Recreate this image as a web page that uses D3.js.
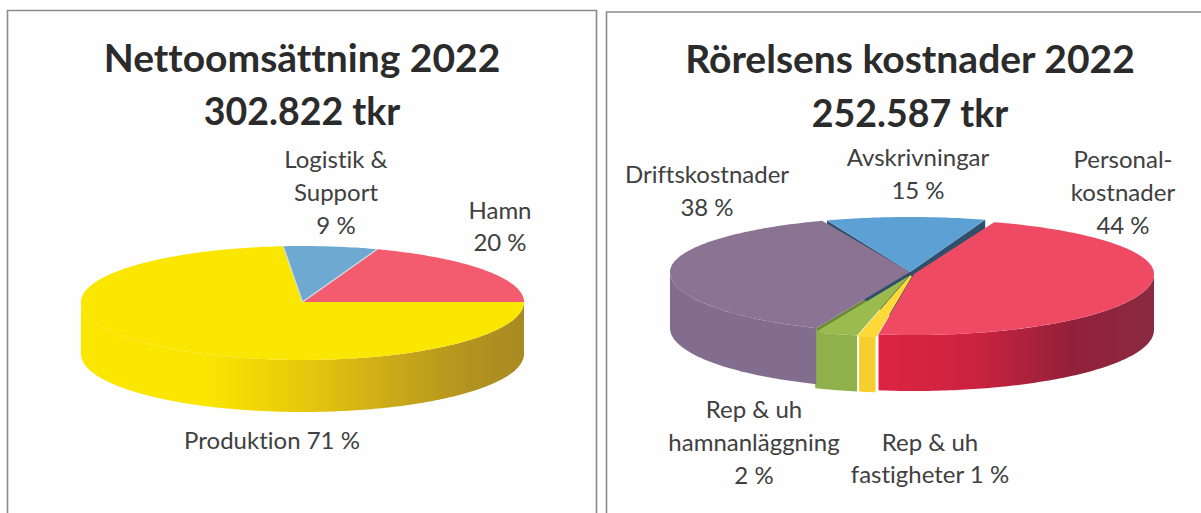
<!DOCTYPE html>
<html><head><meta charset="utf-8">
<script src="https://cdn.jsdelivr.net/npm/d3@7/dist/d3.min.js"></script>
<style>html,body{margin:0;padding:0;background:#fefefe}svg{display:block}text{font-variant-ligatures:none}</style></head>
<body><svg id="c" width="1201" height="513"></svg>
<script>
// Data
const revenueTitle = ["Nettoomsättning 2022", "302.822 tkr"];
const revenueCategories = ["Hamn", "Logistik & Support", "Produktion"];
const revenueValues = [20, 9, 71];
const costTitle = ["Rörelsens kostnader 2022", "252.587 tkr"];
const costCategories = ["Personalkostnader", "Rep & uh fastigheter", "Rep & uh hamnanläggning", "Driftskostnader", "Avskrivningar"];
const costValues = [44, 1, 2, 38, 15];

// Presentation
const revenueColors = [
  {top:"#F25C6E", side:"#F25C6E"},
  {top:"#6EA9D2", side:"#6EA9D2", seam:"#d5dbe0"},
  {top:"#FBE600", side:"url(#gY)"}];
const costColors = [
  {top:"#EE4A63", side:"url(#gR)", off:[5,0]},
  {top:"#FFD93A", side:"#F6CF2E", off:[2,2], edge:2},
  {top:"#9BBB4F", side:"#8FB04A", off:[0,2]},
  {top:"#8A7393", side:"#836D8F", off:[1,-2], cuts:[0], cut:"#6b8a38", cutDepth:7},
  {top:"#5DA0D3", side:"#2F4F6B", off:[1,-2], cuts:[0,1], cut:"#2F4F6B", trim:1.25}];
const revenueLabels = [
  {x:336, ys:[168,201,234], t:["Logistik &","Support","9 %"]},
  {x:500, ys:[219,251], t:["Hamn","20 %"]},
  {x:272, ys:[449], t:["Produktion 71 %"]}];
const costLabels = [
  {x:707, ys:[183,216], t:["Driftskostnader","38 %"]},
  {x:918, ys:[166,199], t:["Avskrivningar","15 %"]},
  {x:1123, ys:[168,201,234], t:["Personal-","kostnader","44 %"]},
  {x:754, ys:[418,451,484], t:["Rep & uh","hamnanläggning","2 %"]},
  {x:930, ys:[451,483], t:["Rep & uh","fastigheter 1 %"]}];

const svg = d3.select("#c");
const defs = svg.append("defs");
function grad(id, x1, x2, stops){
  const g = defs.append("linearGradient").attr("id",id).attr("gradientUnits","userSpaceOnUse")
    .attr("x1",x1).attr("x2",x2).attr("y1",0).attr("y2",0);
  stops.forEach(s=>g.append("stop").attr("offset",s[0]).attr("stop-color",s[1]));
}
grad("gY",81,524,[[0,"#FBE600"],[.28,"#FBE600"],[.5,"#E6C90C"],[.72,"#C8A71A"],[.88,"#B2921F"],[1,"#A98A22"]]);
grad("gR",876,1154,[[0,"#DC2443"],[.35,"#CC2340"],[.7,"#93203A"],[1,"#8A2A40"]]);
const rad = d=>d*Math.PI/180;
const line = d3.line();

function drawPie(o){
  const pie = d3.pie().sort(null).startAngle(rad(o.start)).endAngle(rad(o.start+o.sweep));
  const arcs = pie(o.values);
  // the tilted view squeezes the slices unevenly: map true angles to drawn angles
  const warp = d3.scaleLinear()
     .domain([arcs[0].startAngle,...arcs.map(a=>a.endAngle)].map(Number))
     .range(o.drawnAngles.map(rad));
  const X = d3.scaleLinear().domain([-1,1]).range([o.cx-o.rx,o.cx+o.rx]);
  const Y = d3.scaleLinear().domain([-1,0,1]).range([o.cy+o.ryFront,o.cy,o.cy-o.ryBack]);
  const slices = arcs.map((a,i)=>{
    const c=o.colors[i];
    const lo=Math.min(warp(a.startAngle),warp(a.endAngle))+rad(c.trim||0);
    const hi=Math.max(warp(a.startAngle),warp(a.endAngle))-rad(c.trim||0);
    return {a0:lo,a1:hi,c,i,off:c.off||[0,0]};
  });
  const pt=(s,th,dz=0)=>[X(Math.sin(th))+s.off[0],Y(Math.cos(th))+s.off[1]+dz];
  const apexOf=s=>[o.cx+s.off[0],o.cy+s.off[1]];
  const samples=(a0,a1)=>{const n=Math.max(2,Math.ceil((a1-a0)/rad(1)));return d3.range(n+1).map(k=>a0+(a1-a0)*k/n);};
  const g = svg.append("g");

  // walls
  slices.filter(s=>s.c.cuts).forEach(s=>{
    const apex=apexOf(s), dz=s.c.cutDepth||o.depth;
    s.c.cuts.map(k=>k?s.a1:s.a0).forEach(th=>{
      const p=pt(s,th);
      g.append("path").attr("d",line([apex,p,[p[0],p[1]+dz],[apex[0],apex[1]+dz]])+"Z").attr("fill",s.c.cut);
    });
  });
  slices.forEach(s=>{
    [-1,0,1].forEach(k=>{
      const lo=Math.max(s.a0,rad(90+360*k)), hi=Math.min(s.a1,rad(270+360*k));
      if(hi>lo){
        const top=samples(lo,hi).map(t=>pt(s,t));
        const bot=samples(lo,hi).reverse().map(t=>pt(s,t,o.depth));
        g.append("path").attr("d",line(top.concat(bot))+"Z").attr("fill",s.c.side);
      }
    });
  });
  // top faces
  slices.forEach(s=>{
    g.append("path").attr("d",line([apexOf(s),...samples(s.a0,s.a1).map(t=>pt(s,t))])+"Z").attr("fill",s.c.top)
      .attr("stroke",s.c.edge?s.c.top:"none").attr("stroke-width",s.c.edge||0);
  });
  slices.filter(s=>s.c.seam).forEach(s=>{
    g.append("path").attr("d",line([pt(s,s.a0),apexOf(s),pt(s,s.a1)])).attr("fill","none")
      .attr("stroke",s.c.seam).attr("stroke-width",1.2);
  });
}

drawPie({values:revenueValues,colors:revenueColors,start:90,sweep:-360,
  drawnAngles:[90,19.7,-5,-270],cx:302.5,cy:302,rx:221.5,ryBack:56,ryFront:58,depth:52});
drawPie({values:costValues,colors:costColors,start:19.5,sweep:360,
  drawnAngles:[19.5,188.5,192.5,203,338.5,379.5],cx:909,cy:274,rx:240,ryBack:55,ryFront:61,depth:56});

// frames
const frame = svg.append("g").attr("fill","none").attr("stroke","#8c8c8c").attr("stroke-width",1.6);
frame.append("path").attr("d","M7.5,513V10.5H596.5V513");
frame.append("path").attr("d","M606.5,513V12H1201");

// titles
function titles(lines,x,ys){
  svg.append("g").selectAll("text").data(lines).join("text")
    .attr("x",x).attr("y",(d,i)=>ys[i]).attr("text-anchor","middle")
    .attr("font-family","Lato").attr("font-weight",700).attr("font-size",(d,i)=>i?37.5:39).attr("fill","#2b2b2b").text(d=>d);
}
titles(revenueTitle,302,[72,125]);
titles(costTitle,910,[73,127]);
// labels
function labels(list){
  list.forEach(l=>svg.append("g").selectAll("text").data(l.t).join("text")
    .attr("x",l.x).attr("y",(d,i)=>l.ys[i]).attr("text-anchor","middle")
    .attr("font-family","Lato").attr("font-size",24).attr("fill","#404040").text(d=>d));
}
labels(revenueLabels);labels(costLabels);
</script></body></html>
